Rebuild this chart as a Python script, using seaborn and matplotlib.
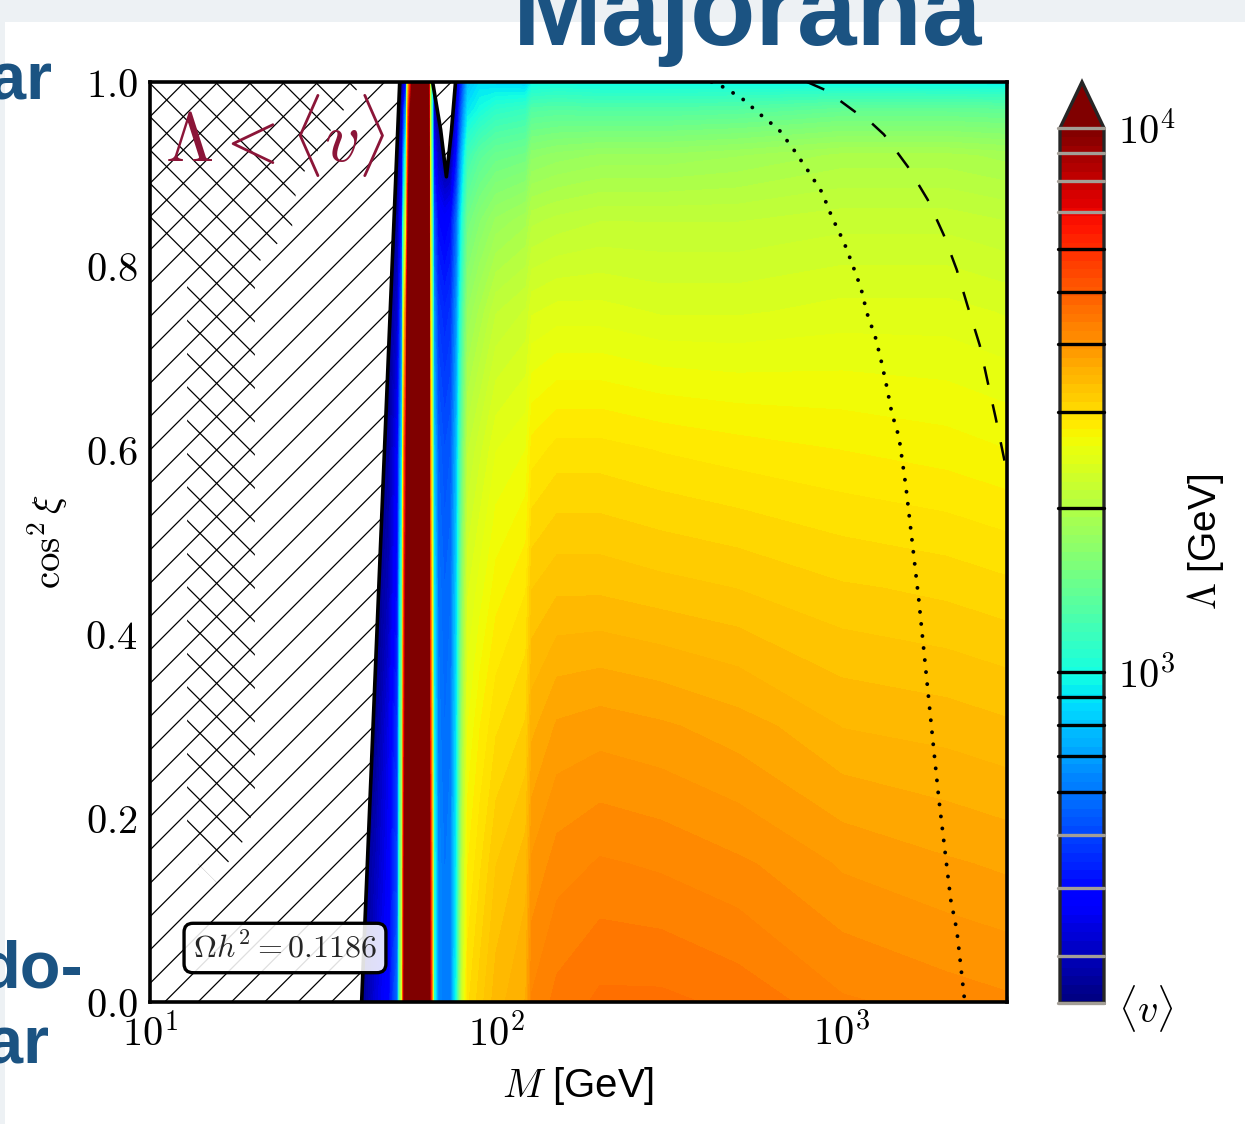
import numpy as np
import matplotlib
matplotlib.use("Agg")
import matplotlib.pyplot as plt
import seaborn as sns
import pandas as pd
from matplotlib.colors import LogNorm
from matplotlib.ticker import LogLocator, NullFormatter
from matplotlib.patches import Rectangle

# ---------------- data ----------------
mass_nodes = [10, 38, 41, 45, 49, 52, 53.5, 55, 57, 60, 63, 64.5, 66, 68, 71, 74, 77, 80, 83, 90,
              100, 122, 127, 150, 200, 300, 500, 1000, 2000, 3000]
cos2_nodes = [0.0, 0.15, 0.3, 0.45, 0.6, 0.75, 0.85, 0.92, 0.97, 1.0]

lam_c000 = [246, 246, 250, 335, 390, 600, 2400, 15000, 50000, 80000, 30000, 8000, 1100, 650, 600, 620, 1000, 2300, 3000, 3200,
            3450, 3650, 4250, 4450, 4600, 4600, 4500, 4250, 4150, 4100]
lam_c015 = [246, 246, 246, 300, 370, 520, 2000, 14000, 50000, 80000, 30000, 7000, 1100, 650, 600, 620, 950, 2100, 2800, 3000,
            3250, 3450, 3950, 4150, 4250, 4200, 4100, 3900, 3800, 3750]
lam_c030 = [246, 246, 246, 260, 350, 480, 1700, 12000, 50000, 80000, 30000, 6000, 1000, 620, 580, 600, 900, 1900, 2600, 2800,
            3000, 3150, 3600, 3800, 3850, 3800, 3700, 3500, 3450, 3400]
lam_c045 = [246, 246, 246, 246, 300, 420, 1300, 10000, 50000, 80000, 30000, 5000, 950, 600, 560, 580, 850, 1700, 2400, 2550,
            2750, 2900, 3250, 3350, 3350, 3300, 3250, 3150, 3100, 3050]
lam_c060 = [246, 246, 246, 246, 270, 380, 900, 8000, 45000, 80000, 30000, 4000, 850, 560, 520, 540, 780, 1500, 2150, 2300,
            2500, 2600, 2850, 2950, 2950, 2900, 2850, 2800, 2750, 2700]
lam_c075 = [246, 246, 246, 246, 246, 320, 600, 5000, 30000, 70000, 30000, 3000, 700, 480, 450, 470, 680, 1250, 1800, 1950,
            2150, 2250, 2400, 2450, 2450, 2400, 2400, 2450, 2450, 2400]
lam_c085 = [246, 246, 246, 246, 246, 280, 450, 2500, 20000, 60000, 25000, 2500, 550, 400, 380, 400, 580, 1050, 1500, 1650,
            1800, 1900, 2050, 2100, 2150, 2150, 2150, 2200, 2200, 2150]
lam_c092 = [246, 246, 246, 246, 246, 250, 350, 1200, 15000, 60000, 25000, 2200, 420, 300, 250, 260, 420, 800, 1200, 1350,
            1450, 1500, 1700, 1750, 1800, 1800, 1850, 1950, 1950, 1900]
lam_c097 = [246, 246, 246, 246, 246, 246, 290, 700, 12000, 55000, 22000, 2000, 320, 246, 246, 246, 330, 600, 900, 1000,
            1100, 1150, 1300, 1320, 1300, 1300, 1320, 1400, 1400, 1380]
lam_c100 = [246, 246, 246, 246, 246, 246, 260, 420, 8000, 50000, 20000, 1800, 300, 246, 246, 246, 300, 500, 780, 880,
            850, 830, 950, 980, 960, 960, 960, 950, 940, 930]

v_ew = 246.0
lam_top = 1.0e4

# region where Lambda < <v> (hatched)
excl_mass = [10, 40.9, 52.7, 10]
excl_cos2 = [0.0, 0.0, 1.0, 1.0]
notch_mass = [65.6, 69.2, 71.9, 74.4, 76.4]
notch_cos2 = [1.0, 0.948, 0.897, 0.948, 1.0]
cross_mass = [10, 40.9, 26.6, 25.7, 20.1, 20.1, 19.0, 16.7, 15.6, 13.8, 12.8, 12.8, 11.6, 10]
cross_cos2 = [1.0, 1.0, 0.89, 0.84, 0.80, 0.22, 0.18, 0.15, 0.13, 0.15, 0.18, 0.785, 0.80, 0.82]

# dotted and dashed curves
dot_mass = [420, 442, 511, 584, 658, 727, 803, 876, 936, 1013, 1069, 1135, 1181, 1253, 1304, 1349, 1394, 1462,
            1531, 1668, 1843, 1907, 2063, 2148, 2265]
dot_cos2 = [1.0, 0.997, 0.983, 0.964, 0.948, 0.926, 0.902, 0.880, 0.853, 0.826, 0.803, 0.776, 0.749, 0.721,
            0.694, 0.668, 0.640, 0.614, 0.560, 0.437, 0.274, 0.22, 0.111, 0.078, 0.0]
dash_mass = [793, 899, 1097, 1221, 1322, 1442, 1550, 1770, 1968, 2147, 2310, 2502, 2638, 2782, 2937, 3000]
dash_cos2 = [1.0, 0.991, 0.967, 0.955, 0.943, 0.924, 0.908, 0.872, 0.834, 0.796, 0.756, 0.714, 0.674, 0.635, 0.592, 0.575]

cbar_black_levels = [600, 700, 800, 900, 1000, 2000, 3000, 4000, 5000, 6000]
cbar_gray_levels = [246, 300, 400, 500, 7000, 8000, 9000, 10000]

xtick_vals = [10, 100, 1000]
xtick_labels = [r'$10^{1}$', r'$10^{2}$', r'$10^{3}$']
ytick_vals = [0.0, 0.2, 0.4, 0.6, 0.8, 1.0]
ytick_labels = [r'$0.0$', r'$0.2$', r'$0.4$', r'$0.6$', r'$0.8$', r'$1.0$']
cbar_tick_vals = [246, 1000, 10000]
cbar_tick_labels = [r'$\langle v\rangle$', r'$10^3$', r'$10^4$']

relic_label = r'$\Omega h^2 = 0.1186$'
excl_label = r'$\Lambda < \langle v\rangle$'
title_text = 'Majorana'
side_texts = ['ar', 'do-', 'ar']

# ---------------- style ----------------
sns.set_theme(style="ticks")
plt.rcParams['font.family'] = ['Liberation Sans', 'DejaVu Sans']
plt.rcParams['mathtext.fontset'] = 'cm'
plt.rcParams['hatch.linewidth'] = 0.9
plt.rcParams['hatch.color'] = 'black'
plt.rcParams['axes.unicode_minus'] = False

W, H = 1245, 1124
fig = plt.figure(figsize=(W / 100, H / 100), dpi=100)
fig.patch.set_facecolor('white')

# slide background strips
fig.patches.append(Rectangle((0, 1 - 22 / H), 1, 22 / H, transform=fig.transFigure,
                             facecolor='#edf1f4', edgecolor='none', zorder=0))
fig.patches.append(Rectangle((0, 0), 5 / W, 1, transform=fig.transFigure,
                             facecolor='#edf1f4', edgecolor='none', zorder=0))

ax = fig.add_axes([150 / W, 1 - 1002 / H, 857 / W, 920 / H])

Z = np.array([lam_c000, lam_c015, lam_c030, lam_c045, lam_c060, lam_c075,
              lam_c085, lam_c092, lam_c097, lam_c100], dtype=float)
levels = np.logspace(np.log10(v_ew), np.log10(lam_top), 100)
norm = LogNorm(vmin=v_ew, vmax=lam_top)
cf = ax.contourf(mass_nodes, cos2_nodes, Z, levels=levels, norm=norm, cmap='jet',
                 extend='max', zorder=1)

# excluded (hatched) regions
ax.fill(excl_mass, excl_cos2, facecolor='white', edgecolor='black', hatch='/',
        linewidth=0, zorder=1.5)
ax.fill(cross_mass, cross_cos2, facecolor='none', edgecolor='black', hatch='\\',
        linewidth=0, zorder=1.6)
ax.fill(notch_mass, notch_cos2, facecolor='white', edgecolor='black', hatch='/',
        linewidth=0, zorder=1.5)
ax.plot(excl_mass[1:3], excl_cos2[1:3], color='black', lw=2.6, zorder=2)
ax.plot(notch_mass, notch_cos2, color='black', lw=2.6, zorder=2)

# curves via seaborn
curves = pd.DataFrame({'M': dot_mass, 'c': dot_cos2})
sns.lineplot(data=curves, x='M', y='c', sort=False, estimator=None, color='black', ax=ax)
ln = ax.lines[-1]
ln.set_linewidth(2.8)
ln.set_linestyle((0, (0.01, 3.1)))
ln.set_dash_capstyle('round')
ln.set_zorder(2)
curves2 = pd.DataFrame({'M': dash_mass, 'c': dash_cos2})
sns.lineplot(data=curves2, x='M', y='c', sort=False, estimator=None, color='black', ax=ax)
ln2 = ax.lines[-1]
ln2.set_linewidth(1.8)
ln2.set_linestyle((0, (7.5, 8.0)))
ln2.set_zorder(2)

ax.set_xscale('log')
ax.set_xlim(10, 3000)
ax.set_ylim(0, 1)
ax.set_xticks(xtick_vals)
ax.set_xticklabels(xtick_labels)
ax.xaxis.set_minor_locator(LogLocator(base=10, subs=np.arange(2, 10)))
ax.xaxis.set_minor_formatter(NullFormatter())
ax.set_yticks(ytick_vals)
ax.set_yticklabels(ytick_labels)
ax.tick_params(which='both', direction='in', top=True, right=True, colors='black')
ax.tick_params(which='major', length=8.6, width=1.2, labelsize=29)
ax.tick_params(which='minor', length=4.3, width=1.0)
ax.tick_params(axis='y', pad=9)
ax.tick_params(axis='x', pad=8)
for s in ax.spines.values():
    s.set_linewidth(2.6)
    s.set_color('black')
    s.set_zorder(3)
ax.set_xlabel(r'$M$ [GeV]', fontsize=29, color='black')
ax.set_ylabel(r'$\cos^2\xi$', fontsize=28, color='black')
ax.xaxis.set_label_coords(0.5, -0.069)
ax.yaxis.set_label_coords(-0.093, 0.5)
ax.grid(False)

ax.text(0.017, 0.942, excl_label, transform=ax.transAxes, fontsize=50,
        color='#8b1538', ha='left', va='center', zorder=4)
ax.text(0.1575, 0.0587, relic_label, transform=ax.transAxes, fontsize=23,
        ha='center', va='center', zorder=4,
        bbox=dict(boxstyle='round,pad=0.28', fc=(1, 1, 1, 0.88), ec='black', lw=2.4))

# colorbar (axes includes the extension triangle)
cax = fig.add_axes([1060 / W, 1 - 1003 / H, 44 / W, 921 / H])
cbar = fig.colorbar(cf, cax=cax, extendfrac=0.0526)
cbar.outline.set_linewidth(2.4)
cbar.set_ticks(cbar_tick_vals)
cbar.set_ticklabels(cbar_tick_labels)
cax.yaxis.set_minor_locator(LogLocator(base=10, subs=np.arange(2, 10)))
cax.yaxis.set_minor_formatter(NullFormatter())
cax.tick_params(which='both', direction='in', right=True, left=False, colors='black')
cax.tick_params(which='major', length=6, width=1.0, labelsize=29, pad=10)
cax.tick_params(which='minor', length=3.5, width=1.0)
for lv in cbar_gray_levels:
    cax.axhline(lv, xmin=-0.05, xmax=1.0, color='#a39e96', lw=2.4, clip_on=False, zorder=5)
for lv in cbar_black_levels:
    cax.axhline(lv, xmin=-0.05, xmax=1.0, color='black', lw=2.4, clip_on=False, zorder=5)
fig.text(1205 / W, 1 - 542 / H, r'$\Lambda$ [GeV]', rotation=90, fontsize=28,
         ha='center', va='center', color='black')

# slide texts
blue = '#1b5382'
fig.text(748 / W, 1 - 45 / H, title_text, ha='center', va='baseline', fontsize=77,
         fontweight='bold', color=blue)
fig.text(52 / W, 1 - 100 / H, side_texts[0], ha='right', va='baseline', fontsize=48,
         fontweight='bold', color=blue)
fig.text(83 / W, 1 - 988 / H, side_texts[1], ha='right', va='baseline', fontsize=48,
         fontweight='bold', color=blue)
fig.text(49 / W, 1 - 1063 / H, side_texts[2], ha='right', va='baseline', fontsize=48,
         fontweight='bold', color=blue)

fig.savefig('out.png', dpi=100)
